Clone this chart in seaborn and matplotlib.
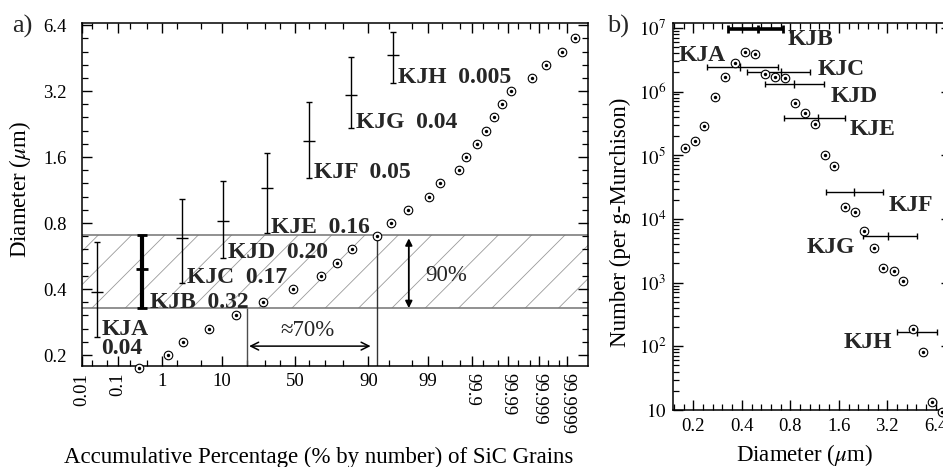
import math
import numpy as np
import pandas as pd
import matplotlib
matplotlib.use("Agg")
import matplotlib.pyplot as plt
import matplotlib.ticker as mticker
import seaborn as sns

# ---------------- data ----------------
# panel a: cumulative percentage (by number) versus grain diameter
cum_pct_a = [0.32, 1.32, 2.57, 6.75, 15.2, 28.6, 49.0, 67.4, 76.7, 84.2, 92.32,
             95.38, 97.57, 99.03, 99.449, 99.789, 99.863, 99.9266, 99.9578,
             99.9746, 99.98539, 99.99174, 99.99834, 99.999414, 99.999851,
             99.9999494]
diam_a = [0.174, 0.2, 0.23, 0.264, 0.303, 0.348, 0.4, 0.459, 0.528, 0.606,
          0.696, 0.8, 0.919, 1.056, 1.213, 1.393, 1.6, 1.838, 2.111, 2.425,
          2.786, 3.2, 3.676, 4.222, 4.85, 5.572]

# size fractions
fractions = ["KJA", "KJB", "KJC", "KJD", "KJE", "KJF", "KJG", "KJH"]
mass_frac = ["0.04", "0.32", "0.17", "0.20", "0.16", "0.05", "0.04", "0.005"]
frac_pct_a = [0.028, 0.384, 2.44, 10.55, 31.04, 59.77, 83.5, 95.71]
frac_lo_a = [0.2417, 0.3283, 0.426, 0.5541, 0.7203, 1.284, 2.172, 3.484]
frac_mid_a = [0.3877, 0.4937, 0.6836, 0.8173, 1.156, 1.894, 3.071, 4.675]
frac_hi_a = [0.6555, 0.7054, 1.030, 1.2442, 1.6698, 2.853, 4.578, 5.953]

# 90% band (KJB range) and 70% markers
band_lo, band_hi = 0.328, 0.705
pct_left_line = 20.0
pct_right_line = 92.32

# panel b: number per gram Murchison versus diameter
diam_b = [0.178, 0.205, 0.234, 0.272, 0.315, 0.365, 0.417, 0.481, 0.555,
          0.646, 0.742, 0.859, 0.991, 1.134, 1.313, 1.494, 1.741, 2.008,
          2.294, 2.635, 3.023, 3.507, 4.007, 4.601, 5.329, 6.088, 7.02]
number_b = [1.31e5, 1.69e5, 2.87e5, 8.2e5, 1.71e6, 2.80e6, 4.12e6, 3.88e6,
            1.91e6, 1.69e6, 1.65e6, 6.6e5, 4.6e5, 3.09e5, 9.95e4, 6.8e4,
            1.54e4, 1.27e4, 6.46e3, 3.53e3, 1.71e3, 1.52e3, 1.07e3, 187, 82,
            13.2, 9.4]
frac_lo_b = [0.2422, 0.3284, 0.429, 0.5572, 0.7311, 1.3267, 2.2706, 3.66]
frac_mid_b = [0.3898, 0.5042, 0.6974, 0.8433, 1.1934, 1.9877, 3.2467, 4.9135]
frac_hi_b = [0.6741, 0.7205, 1.06, 1.3004, 1.7479, 3.023, 4.8706, 6.4843]
frac_n_b = [2.45e6, 9.5e6, 2.02e6, 1.31e6, 3.8e5, 2.62e4, 5.4e3, 169]

# ticks
pct_ticks = [0.01, 0.1, 1, 10, 50, 90, 99, 99.9, 99.99, 99.999, 99.9999]
pct_ticklabels = ["0.01", "0.1", "1", "10", "50", "90", "99", "99.9",
                  "99.99", "99.999", "99.9999"]
pct_rotated = ["0.01", "0.1", "99.9", "99.99", "99.999", "99.9999"]
pct_minor = [0.02, 0.05, 0.2, 0.5, 2, 5, 20, 30, 40, 60, 70, 80, 95, 98,
             99.5, 99.8, 99.95, 99.98, 99.995, 99.998, 99.9995, 99.9998]
diam_ticks = [0.2, 0.4, 0.8, 1.6, 3.2, 6.4]
diam_ticklabels = ["0.2", "0.4", "0.8", "1.6", "3.2", "6.4"]
num_ticks = [10, 1e2, 1e3, 1e4, 1e5, 1e6, 1e7]
num_ticklabels = ["$10$", "$10^{2}$", "$10^{3}$", "$10^{4}$", "$10^{5}$",
                  "$10^{6}$", "$10^{7}$"]

# ---------------- probability scale ----------------
_A = [-3.969683028665376e+01, 2.209460984245205e+02, -2.759285104469687e+02,
      1.383577518672690e+02, -3.066479806614716e+01, 2.506628277459239e+00]
_B = [-5.447609879822406e+01, 1.615858368580409e+02, -1.556989798598866e+02,
      6.680131188771972e+01, -1.328068155288572e+01]
_C = [-7.784894002430293e-03, -3.223964580411365e-01, -2.400758277161838e+00,
      -2.549732539343734e+00, 4.374664141464968e+00, 2.938163982698783e+00]
_D = [7.784695709041462e-03, 3.224671290700398e-01, 2.445134137142996e+00,
      3.754408661907416e+00]


def _ppf(p):
    p = np.clip(np.asarray(p, dtype=float), 1e-15, 1 - 1e-15)
    q = p - 0.5
    r = q * q
    cen = ((((((_A[0]*r+_A[1])*r+_A[2])*r+_A[3])*r+_A[4])*r+_A[5])*q /
           (((((_B[0]*r+_B[1])*r+_B[2])*r+_B[3])*r+_B[4])*r+1))
    ql = np.sqrt(-2*np.log(p))
    low = ((((((_C[0]*ql+_C[1])*ql+_C[2])*ql+_C[3])*ql+_C[4])*ql+_C[5]) /
           ((((_D[0]*ql+_D[1])*ql+_D[2])*ql+_D[3])*ql+1))
    qu = np.sqrt(-2*np.log1p(-p))
    up = -((((((_C[0]*qu+_C[1])*qu+_C[2])*qu+_C[3])*qu+_C[4])*qu+_C[5]) /
           ((((_D[0]*qu+_D[1])*qu+_D[2])*qu+_D[3])*qu+1))
    return np.where(p < 0.02425, low, np.where(p > 1 - 0.02425, up, cen))


_erf = np.vectorize(math.erf, otypes=[float])


def pct_forward(pct):
    return _ppf(np.asarray(pct, dtype=float) / 100.0)


def pct_inverse(z):
    return 50.0 * (1.0 + _erf(np.asarray(z, dtype=float) / math.sqrt(2.0)))


# ---------------- style ----------------
sns.set_theme(style="ticks")
plt.rcParams["font.family"] = ["Liberation Serif", "DejaVu Serif"]
plt.rcParams["mathtext.fontset"] = "stix"
plt.rcParams["axes.linewidth"] = 1.1
plt.rcParams["hatch.color"] = "0.6"
plt.rcParams["hatch.linewidth"] = 0.6

W, H = 943, 467
fig = plt.figure(figsize=(W / 100, H / 100), dpi=100)


def px_axes(l, t, r, b):
    return fig.add_axes([l / W, 1 - b / H, (r - l) / W, (b - t) / H])


axa = px_axes(82, 22.7, 588, 366)
axb = px_axes(673, 23.3, 950.7, 410)

TICK = 13.5
BOLD = 17
LAB = 16.5

# ---------------- panel a ----------------
dfa = pd.DataFrame({"pct": cum_pct_a, "diam": diam_a})
axa.axhspan(band_lo, band_hi, facecolor="none", edgecolor="0.6",
            hatch="/", linewidth=0, zorder=0)
axa.axhline(band_lo, color="0.45", lw=1.1, zorder=1)
axa.axhline(band_hi, color="0.45", lw=1.1, zorder=1)

sns.scatterplot(data=dfa, x="pct", y="diam", ax=axa, marker="o", s=38,
                color="white", edgecolor="black", linewidth=0.8,
                clip_on=False, zorder=4)
sns.scatterplot(data=dfa, x="pct", y="diam", ax=axa, marker="o", s=6,
                color="black", edgecolor="black", linewidth=0,
                clip_on=False, zorder=5)

axa.set_xscale("function", functions=(pct_forward, pct_inverse))
axa.set_yscale("log", base=2)
xlo_a = 0.00999
xhi_a = float(pct_inverse(5.12))
ylo_a, yhi_a = 0.1782, 6.564
axa.set_xlim(xlo_a, xhi_a)
axa.set_ylim(ylo_a, yhi_a)

for i, name in enumerate(fractions):
    thick = name == "KJB"
    lw = 3.0 if thick else 1.0
    mid = frac_mid_a[i]
    axa.errorbar([frac_pct_a[i]], [mid],
                 yerr=[[mid - frac_lo_a[i]], [frac_hi_a[i] - mid]],
                 fmt="_", ms=8 if not thick else 9, mew=1.0 if not thick else 2.0,
                 color="black", ecolor="black", elinewidth=lw,
                 capsize=2.2 if not thick else 3.5, capthick=1.0 if not thick else 2.0,
                 zorder=3)
    if name == "KJA":
        axa.annotate(name, (frac_pct_a[i], frac_lo_a[i]), xytext=(3, 1.5),
                     textcoords="offset points", ha="left", va="baseline",
                     fontsize=BOLD, fontweight="bold")
        axa.annotate(mass_frac[i], (frac_pct_a[i], frac_lo_a[i]), xytext=(3, -12.5),
                     textcoords="offset points", ha="left", va="baseline",
                     fontsize=BOLD, fontweight="bold")
    else:
        axa.annotate(f"{name}  {mass_frac[i]}", (frac_pct_a[i], frac_lo_a[i]),
                     xytext=(5.5 if thick else 3.5, 0), textcoords="offset points",
                     ha="left", va="baseline", fontsize=BOLD, fontweight="bold")

axa.vlines(pct_left_line, ylo_a, band_lo, color="0.3", lw=1.0, zorder=2)
axa.vlines(pct_right_line, ylo_a, band_hi, color="0.2", lw=1.0, zorder=2)
axa.annotate("", xy=(90.7, 0.2196), xytext=(21.2, 0.2196),
             arrowprops=dict(arrowstyle="<->", lw=1.1, color="black",
                             mutation_scale=14, shrinkA=0, shrinkB=0))
axa.text(58.7, 0.2597, "\u224870%", ha="center", va="center", fontsize=LAB)
axa.annotate("", xy=(97.67, 0.6815), xytext=(97.67, 0.3273),
             arrowprops=dict(arrowstyle="<|-|>", lw=1.3, color="black",
                             mutation_scale=10, shrinkA=0, shrinkB=0))
axa.text(98.87, 0.4634, "90%", ha="left", va="center", fontsize=LAB)

axa.xaxis.set_major_locator(mticker.FixedLocator(pct_ticks))
axa.xaxis.set_major_formatter(mticker.FixedFormatter(pct_ticklabels))
axa.xaxis.set_minor_locator(mticker.FixedLocator(pct_minor))
axa.xaxis.set_minor_formatter(mticker.NullFormatter())
axa.yaxis.set_major_locator(mticker.FixedLocator(diam_ticks))
axa.yaxis.set_major_formatter(mticker.FixedFormatter(diam_ticklabels))
axa.yaxis.set_minor_locator(mticker.FixedLocator(
    0.2 * 2.0 ** (np.arange(-5, 31) / 5.0)))
axa.yaxis.set_minor_formatter(mticker.NullFormatter())
axa.tick_params(which="both", direction="in", top=True, right=True,
                labelsize=TICK, colors="black")
axa.tick_params(which="major", length=7, width=1.0)
axa.tick_params(which="minor", length=4, width=0.9)
axa.tick_params(axis="y", which="major", pad=11)
axa.tick_params(axis="x", which="major", pad=5)
for lab in axa.get_xticklabels():
    if lab.get_text() in pct_rotated:
        if float(lab.get_text()) < 50:
            lab.set_rotation(90)
        else:
            lab.set_rotation(-90)
        lab.set_va("top")
        lab.set_ha("center")

axa.set_xlabel("Accumulative Percentage (% by number) of SiC Grains",
               fontsize=LAB, color="black")
axa.xaxis.set_label_coords((319 - 82) / 506, (366 - 457) / 343.3)
axa.xaxis.label.set_va("center")
axa.set_ylabel("Diameter ($\\mu$m)", fontsize=LAB, color="black")
axa.yaxis.set_label_coords((20 - 82) / 506, (366 - 190) / 343.3)
axa.yaxis.label.set_va("center")
for s in axa.spines.values():
    s.set_color("black")

# ---------------- panel b ----------------
dfb = pd.DataFrame({"diam": diam_b, "number": number_b})
sns.scatterplot(data=dfb, x="diam", y="number", ax=axb, marker="o", s=38,
                color="white", edgecolor="black", linewidth=0.8,
                clip_on=False, zorder=4)
sns.scatterplot(data=dfb, x="diam", y="number", ax=axb, marker="o", s=6,
                color="black", edgecolor="black", linewidth=0,
                clip_on=False, zorder=5)
axb.set_xscale("log", base=2)
axb.set_yscale("log")
axb.set_xlim(0.1495, 7.92)
axb.set_ylim(10, 10 ** 7.071)

label_pos_b = {
    "KJA": ("lo", "left", -20.0, 4.1),
    "KJB": ("hi", "left", 3.0, -11.7),
    "KJC": ("hi", "left", 5.8, -2.4),
    "KJD": ("hi", "left", 4.3, -12.8),
    "KJE": ("hi", "left", 3.6, -12.0),
    "KJF": ("hi", "left", 3.6, -13.7),
    "KJG": ("lo", "right", -6.0, -12.5),
    "KJH": ("lo", "right", -3.6, -12.0),
}
for i, name in enumerate(fractions):
    thick = name == "KJB"
    lw = 2.6 if thick else 1.0
    mid = frac_mid_b[i]
    axb.errorbar([mid], [frac_n_b[i]],
                 xerr=[[mid - frac_lo_b[i]], [frac_hi_b[i] - mid]],
                 fmt="|", ms=6, mew=1.0 if not thick else 2.0,
                 color="black", ecolor="black", elinewidth=lw,
                 capsize=2.2 if not thick else 3.0,
                 capthick=1.0 if not thick else 2.0, zorder=3, clip_on=False)
    anchor, ha, dx, dy = label_pos_b[name]
    xa = frac_lo_b[i] if anchor == "lo" else frac_hi_b[i]
    axb.annotate(name, (xa, frac_n_b[i]), xytext=(dx, dy),
                 textcoords="offset points", ha=ha, va="baseline",
                 fontsize=BOLD, fontweight="bold", annotation_clip=False)

axb.xaxis.set_major_locator(mticker.FixedLocator(diam_ticks))
axb.xaxis.set_major_formatter(mticker.FixedFormatter(diam_ticklabels))
axb.xaxis.set_minor_locator(mticker.FixedLocator(
    0.2 * 2.0 ** (np.arange(-5, 31) / 5.0)))
axb.xaxis.set_minor_formatter(mticker.NullFormatter())
axb.yaxis.set_major_locator(mticker.FixedLocator(num_ticks))
axb.yaxis.set_major_formatter(mticker.FixedFormatter(num_ticklabels))
axb.yaxis.set_minor_locator(mticker.LogLocator(base=10, subs=np.arange(2, 10)))
axb.yaxis.set_minor_formatter(mticker.NullFormatter())
axb.tick_params(which="both", direction="in", top=True, right=True,
                labelsize=TICK, colors="black")
axb.tick_params(which="major", length=7, width=1.0)
axb.tick_params(which="minor", length=4, width=0.9)
axb.tick_params(axis="y", which="major", pad=5)
axb.tick_params(axis="x", which="major", pad=6)
axb.set_xlabel("Diameter ($\\mu$m)", fontsize=LAB, color="black")
axb.xaxis.set_label_coords((804 - 673) / 277.7, (410 - 455) / 386.7)
axb.xaxis.label.set_va("center")
axb.set_ylabel("Number (per g-Murchison)", fontsize=LAB, color="black")
axb.yaxis.set_label_coords((620 - 673) / 277.7, (410 - 222) / 386.7)
axb.yaxis.label.set_va("center")
for s in axb.spines.values():
    s.set_color("black")

fig.text(11.7 / W, 1 - 26.5 / H, "a)", ha="left", va="center", fontsize=19)
fig.text(606.7 / W, 1 - 26 / H, "b)", ha="left", va="center", fontsize=19)

fig.savefig("out.png", dpi=100)
